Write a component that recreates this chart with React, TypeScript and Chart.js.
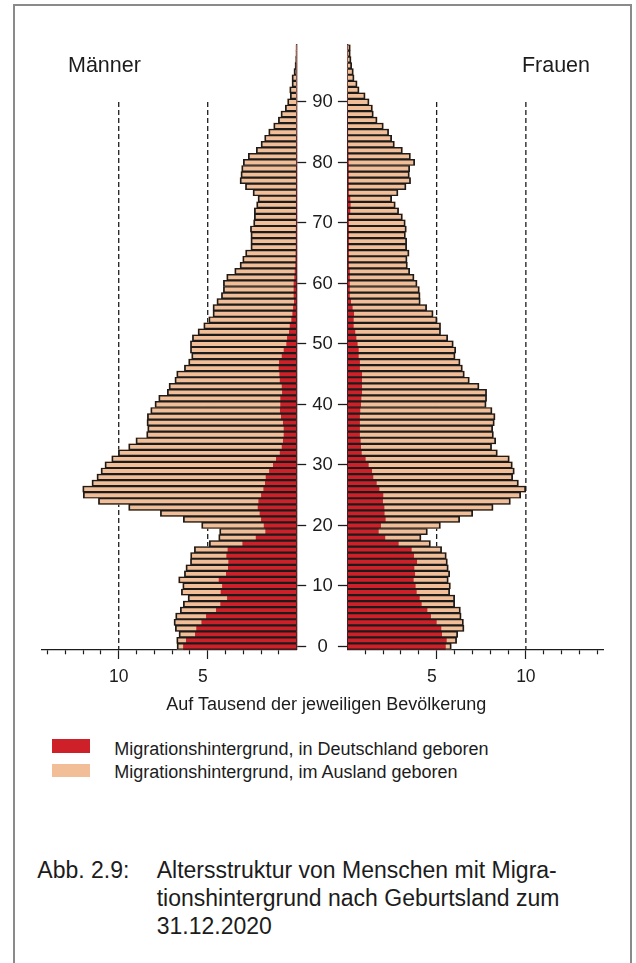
import React, { useEffect, useRef } from 'react';
import { Chart, registerables } from 'chart.js';

Chart.register(...registerables);

// ---------- data ----------
const AGES: string[] = Array.from({ length: 100 }, (_, i) => String(i));
const AGE_TICKS = [0, 10, 20, 30, 40, 50, 60, 70, 80, 90];
const X_TICK_LABELS = [5, 10];
const REF_LINES = [5, 10];
const REF_LINE_TOP_AGE = 90;
const X_MAX = 14.35;

// Männer: in Deutschland geboren (per mille)
const MEN_GERMANY = [
  6.40, 6.24, 5.73, 5.66, 5.37, 5.11, 4.55, 4.31, 3.93, 4.29,
  4.21, 4.40, 3.99, 3.88, 3.86, 3.97, 3.90, 3.07, 2.32, 1.78,
  1.87, 2.02, 2.10, 2.21, 2.17, 2.02, 1.89, 1.80, 1.76, 1.57,
  1.35, 1.18, 0.97, 0.86, 0.79, 0.75, 0.75, 0.79, 0.90, 0.96,
  0.94, 0.94, 0.84, 0.86, 0.97, 0.99, 1.03, 1.01, 0.86, 0.75,
  0.60, 0.56, 0.45, 0.41, 0.32, 0.26, 0.22, 0.17, 0.19, 0.19,
  0.19, 0.15, 0.13, 0.10, 0.09, 0.08, 0.07, 0.07, 0.07, 0.07,
  0.06, 0.06, 0.06, 0.06, 0.06, 0.06, 0.06, 0.06, 0.06, 0.06,
  0.05, 0.05, 0.05, 0.05, 0.05, 0.04, 0.04, 0.04, 0.04, 0.03,
  0.03, 0.03, 0.03, 0.03, 0.03, 0.02, 0.02, 0.02, 0.02, 0.02,
];

// Männer: insgesamt (in Deutschland + im Ausland geboren)
const MEN_TOTAL = [
  6.72, 6.74, 6.61, 6.82, 6.89, 6.80, 6.54, 6.37, 6.10, 6.48,
  6.40, 6.63, 6.31, 6.22, 5.97, 5.96, 5.75, 4.91, 4.38, 4.33,
  5.34, 6.37, 7.66, 9.44, 11.14, 11.99, 12.02, 11.50, 11.22, 10.99,
  10.77, 10.39, 10.02, 9.44, 9.03, 8.43, 8.37, 8.41, 8.39, 8.20,
  7.96, 7.75, 7.27, 7.17, 6.84, 6.74, 6.31, 6.07, 5.90, 5.97,
  5.97, 5.86, 5.54, 5.22, 4.94, 4.70, 4.70, 4.48, 4.23, 4.12,
  4.12, 3.93, 3.48, 3.18, 3.03, 2.87, 2.57, 2.57, 2.57, 2.60,
  2.42, 2.38, 2.38, 2.25, 2.17, 2.45, 2.88, 3.18, 3.13, 3.09,
  3.00, 2.72, 2.27, 2.00, 1.80, 1.57, 1.29, 1.03, 0.88, 0.64,
  0.51, 0.36, 0.39, 0.26, 0.26, 0.15, 0.09, 0.06, 0.04, 0.03,
];

// Frauen: in Deutschland geboren
const WOMEN_GERMANY = [
  5.53, 5.58, 5.32, 5.28, 5.02, 4.70, 4.50, 4.18, 4.07, 3.90,
  3.84, 3.73, 3.81, 3.77, 3.92, 3.75, 3.62, 2.89, 2.14, 1.77,
  1.90, 2.16, 2.10, 2.09, 2.01, 2.03, 1.81, 1.66, 1.47, 1.40,
  1.21, 1.04, 0.82, 0.78, 0.76, 0.72, 0.72, 0.72, 0.72, 0.74,
  0.78, 0.80, 0.84, 0.84, 0.84, 0.84, 0.72, 0.72, 0.65, 0.65,
  0.59, 0.52, 0.46, 0.37, 0.37, 0.39, 0.31, 0.22, 0.15, 0.15,
  0.15, 0.15, 0.15, 0.11, 0.11, 0.11, 0.11, 0.11, 0.11, 0.11,
  0.11, 0.11, 0.18, 0.20, 0.18, 0.10, 0.10, 0.10, 0.10, 0.10,
  0.10, 0.08, 0.08, 0.06, 0.06, 0.06, 0.05, 0.05, 0.05, 0.04,
  0.04, 0.04, 0.03, 0.03, 0.03, 0.03, 0.03, 0.02, 0.02, 0.02,
];

// Frauen: insgesamt
const WOMEN_TOTAL = [
  5.82, 6.12, 6.18, 6.53, 6.50, 6.37, 6.33, 6.01, 6.01, 5.73,
  5.77, 5.65, 5.73, 5.65, 5.60, 5.54, 5.28, 4.65, 4.12, 4.48,
  5.21, 6.29, 7.02, 8.16, 9.13, 9.71, 9.99, 9.58, 9.26, 9.35,
  9.24, 9.07, 8.40, 8.08, 8.31, 8.18, 8.14, 8.23, 8.27, 8.10,
  7.77, 7.80, 7.80, 7.37, 6.83, 6.55, 6.44, 6.31, 6.03, 6.07,
  5.93, 5.62, 5.22, 5.22, 5.02, 4.80, 4.44, 4.08, 4.07, 4.03,
  3.90, 3.73, 3.49, 3.36, 3.34, 3.45, 3.32, 3.32, 3.25, 3.30,
  3.24, 3.08, 2.87, 2.68, 2.48, 2.83, 3.28, 3.54, 3.47, 3.49,
  3.77, 3.53, 3.08, 2.63, 2.48, 2.31, 2.01, 1.66, 1.45, 1.40,
  1.21, 0.99, 0.65, 0.54, 0.37, 0.33, 0.24, 0.20, 0.16, 0.16,
];

const SERIES_LABELS = [
  'Migrationshintergrund, in Deutschland geboren',
  'Migrationshintergrund, im Ausland geboren',
];

// ---------- style ----------
const RED = '#cd2028';
const PEACH = '#f1be98';
const INK = '#1c1c1c';
const FONT = "'Liberation Sans', Arial, Helvetica, sans-serif";
const NONE = 'rgba(0,0,0,0)';

const refLinePlugin = {
  id: 'refLines',
  beforeDatasetsDraw(chart: any) {
    const { ctx, chartArea, scales } = chart;
    const xs = scales.x;
    const ys = scales.y;
    const top = ys.getPixelForValue(REF_LINE_TOP_AGE);
    ctx.save();
    ctx.setLineDash([5, 3]);
    ctx.lineWidth = 1.3;
    ctx.strokeStyle = INK;
    for (const v of REF_LINES) {
      const px = xs.getPixelForValue(v);
      ctx.beginPath();
      ctx.moveTo(px, top);
      ctx.lineTo(px, chartArea.bottom);
      ctx.stroke();
    }
    ctx.restore();
  },
};

function makeConfig(isLeft: boolean, germany: number[], total: number[]): any {
  const common = { grouped: false, categoryPercentage: 1, barPercentage: 1 };
  return {
    type: 'bar',
    data: {
      labels: AGES,
      datasets: [
        { ...common, label: SERIES_LABELS[0], data: germany, backgroundColor: RED, borderWidth: 0, order: 2 },
        {
          ...common,
          label: SERIES_LABELS[1],
          data: germany.map((g, i) => [g, total[i]]),
          backgroundColor: PEACH,
          borderWidth: 0,
          order: 1,
        },
        {
          ...common,
          label: 'gesamt',
          data: total,
          backgroundColor: NONE,
          borderColor: INK,
          borderWidth: { top: 0.75, bottom: 0.75, left: 1.1, right: 1.1 },
          borderSkipped: 'start',
          order: 0,
        },
      ],
    },
    options: {
      indexAxis: 'y',
      responsive: false,
      animation: false,
      devicePixelRatio: 1,
      events: [],
      layout: {
        padding: isLeft
          ? { left: 41.3, right: 13.8, top: 44.5, bottom: 0 }
          : { left: 0, right: 32.5, top: 44.5, bottom: 0 },
      },
      plugins: { legend: { display: false }, tooltip: { enabled: false }, title: { display: false } },
      scales: {
        x: {
          type: 'linear',
          min: 0,
          max: X_MAX,
          reverse: isLeft,
          afterFit: (s: any) => {
            s.height = 50.5;
          },
          border: { display: true, color: INK, width: 1.3 },
          grid: {
            drawOnChartArea: false,
            drawTicks: true,
            tickLength: 9.5,
            tickWidth: 1.2,
            tickColor: (c: any) => (c.tick && c.tick.value === 0 ? NONE : INK),
            tickBorderDash: (c: any) => (c.tick && X_TICK_LABELS.includes(c.tick.value) ? [] : [4, 40]),
          },
          ticks: {
            stepSize: 1,
            includeBounds: false,
            autoSkip: false,
            maxRotation: 0,
            padding: 8,
            color: INK,
            font: { family: FONT, size: 17.5 },
            callback: (v: number) => (X_TICK_LABELS.includes(v) ? (v < 10 ? String(v) + '\u2007' : String(v)) : ''),
          },
        },
        y: {
          type: 'category',
          reverse: true,
          offset: true,
          position: isLeft ? 'right' : 'left',
          afterFit: (s: any) => {
            s.width = isLeft ? 9.5 : 47.4;
          },
          border: { display: true, color: INK, width: 1.3 },
          grid: {
            offset: false,
            drawOnChartArea: false,
            tickLength: 9.5,
            tickWidth: 1.3,
            tickColor: (c: any) => (AGE_TICKS.includes(c.index) ? INK : NONE),
          },
          ticks: {
            display: !isLeft,
            autoSkip: false,
            crossAlign: 'center',
            padding: 5.0,
            color: INK,
            font: { family: FONT, size: 18.5 },
            callback: (_v: any, i: number) => (AGE_TICKS.includes(i) ? AGES[i] : ''),
          },
        },
      },
    },
    plugins: [refLinePlugin],
  };
}

function Pyramid(props: { isLeft: boolean; germany: number[]; total: number[]; left: number; width: number; height: number }) {
  const ref = useRef<HTMLCanvasElement | null>(null);
  useEffect(() => {
    if (!ref.current) return;
    const chart = new Chart(ref.current, makeConfig(props.isLeft, props.germany, props.total));
    return () => chart.destroy();
  }, []);
  return (
    <canvas
      ref={ref}
      width={props.width}
      height={props.height}
      style={{ position: 'absolute', left: props.left, top: 0, width: props.width, height: props.height }}
    />
  );
}

const textBase: React.CSSProperties = {
  position: 'absolute',
  fontFamily: FONT,
  color: INK,
  whiteSpace: 'nowrap',
  lineHeight: 1,
};

export default function App() {
  return (
    <div
      style={{
        position: 'absolute',
        left: 0,
        top: 0,
        width: 636,
        height: 963,
        overflow: 'hidden',
        background: '#fff',
      }}
    >
      <div
        style={{
          position: 'absolute',
          left: 13,
          top: 4,
          width: 619,
          height: 1100,
          border: '2px solid #8a8a8a',
          boxSizing: 'border-box',
        }}
      />
      <Pyramid isLeft={true} germany={MEN_GERMANY} total={MEN_TOTAL} left={0} width={320} height={700} />
      <Pyramid isLeft={false} germany={WOMEN_GERMANY} total={WOMEN_TOTAL} left={300} width={336} height={700} />

      <div style={{ ...textBase, left: 68, top: 54.5, fontSize: 21.5 }}>Männer</div>
      <div style={{ ...textBase, right: 46, top: 54.5, fontSize: 21.5 }}>Frauen</div>

      <div style={{ ...textBase, left: 326.3, top: 694.8, fontSize: 18, transform: 'translateX(-50%)' }}>
        Auf Tausend der jeweiligen Bevölkerung
      </div>

      <div style={{ position: 'absolute', left: 51.7, top: 739.3, width: 38.3, height: 13.4, background: RED }} />
      <div style={{ ...textBase, left: 114.3, top: 739.8, fontSize: 18 }}>{SERIES_LABELS[0]}</div>
      <div style={{ position: 'absolute', left: 51.7, top: 764, width: 38.3, height: 12.7, background: PEACH }} />
      <div style={{ ...textBase, left: 114.3, top: 763.3, fontSize: 18 }}>{SERIES_LABELS[1]}</div>

      <div style={{ ...textBase, left: 37.3, top: 855.6, fontSize: 23, lineHeight: '28.2px' }}>Abb. 2.9:</div>
      <div style={{ ...textBase, left: 156.7, top: 855.6, fontSize: 23, lineHeight: '28.2px' }}>
        <div>Altersstruktur von Menschen mit Migra-</div>
        <div>tionshintergrund nach Geburtsland zum</div>
        <div>31.12.2020</div>
      </div>
    </div>
  );
}
